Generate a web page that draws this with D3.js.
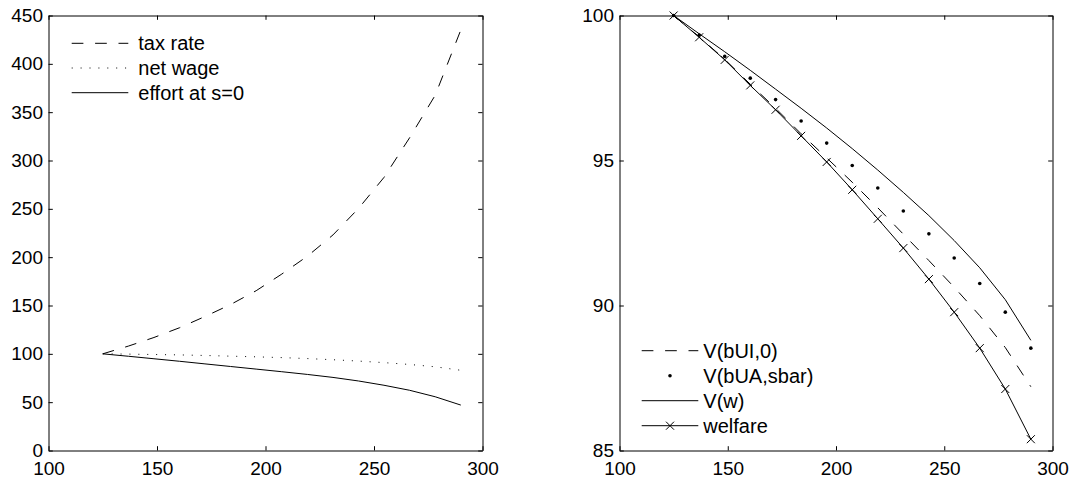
<!DOCTYPE html>
<html>
<head>
<meta charset="utf-8">
<script src="https://cdn.jsdelivr.net/npm/d3@7"></script>
<style>
  body { margin: 0; background: #fff; }
  svg { display: block; font-family: "Liberation Sans", Arial, Helvetica, sans-serif; }
</style>
</head>
<body>
<svg id="chart" width="1075" height="482"></svg>
<script>
// Shared x grid (wage level) for every series.
const wage = [125, 136.8, 148.6, 160.4, 172.1, 183.9, 195.7, 207.5, 219.3, 231.1, 242.9, 254.6, 266.4, 278.2, 290];

// Left panel.
const taxRate = [100, 108.0, 116.9, 127.0, 138.6, 151.0, 165.3, 182.5, 201.0, 223.0, 250.5, 282.5, 323.5, 367.5, 435];
const netWage = [100, 99.7, 99.3, 98.9, 98.3, 97.6, 96.9, 96.1, 95.1, 93.9, 92.5, 90.9, 89.0, 86.6, 83.0];
const effort  = [100, 97.5, 94.9, 92.3, 89.6, 86.9, 84.2, 81.5, 78.7, 75.6, 71.9, 67.5, 62.3, 55.6, 47.0];

// Right panel.
const vUI     = [100, 99.26, 98.49, 97.63, 96.80, 95.92, 95.09, 94.25, 93.37, 92.46, 91.55, 90.63, 89.65, 88.55, 87.2];
const vUA     = [100, 99.33, 98.59, 97.84, 97.10, 96.36, 95.60, 94.83, 94.05, 93.26, 92.47, 91.64, 90.76, 89.77, 88.53];
const vW      = [100, 99.37, 98.75, 98.11, 97.46, 96.80, 96.12, 95.41, 94.67, 93.90, 93.10, 92.24, 91.30, 90.20, 88.80];
const welfare = [100, 99.25, 98.47, 97.59, 96.75, 95.85, 94.95, 93.99, 92.99, 91.98, 90.91, 89.77, 88.53, 87.12, 85.39];

const xTicks = [100, 150, 200, 250, 300];
const leftYTicks = [0, 50, 100, 150, 200, 250, 300, 350, 400, 450];
const rightYTicks = [85, 90, 95, 100];

const leftLabels = ['tax rate', 'net wage', 'effort at s=0'];
const rightLabels = ['V(bUI,0)', 'V(bUA,sbar)', 'V(w)', 'welfare'];

const DASH = '11.7,11.7';
const DOT = '1,7.9';
const TICK = 4.3;

const svg = d3.select('#chart');

function panel(left, right, top, bottom, yDomain, yTicks) {
  const x = d3.scaleLinear().domain([100, 300]).range([left, right]);
  const y = d3.scaleLinear().domain(yDomain).range([bottom, top]);
  const g = svg.append('g');

  const fmt = d3.format('d');
  const styleAxis = sel => {
    sel.select('.domain').attr('stroke', '#000').attr('stroke-width', 1);
    sel.selectAll('.tick line').attr('stroke', '#000').attr('stroke-width', 1);
    sel.selectAll('.tick text').attr('fill', '#000');
    sel.attr('font-family', null).attr('font-size', 19);
  };

  g.append('g').attr('transform', `translate(0,${bottom})`)
    .call(d3.axisBottom(x).tickValues(xTicks).tickFormat(fmt).tickSize(-TICK).tickSizeOuter(0).tickPadding(11.5))
    .call(styleAxis);
  g.append('g').attr('transform', `translate(0,${top})`)
    .call(d3.axisTop(x).tickValues(xTicks).tickFormat('').tickSize(-TICK).tickSizeOuter(0))
    .call(styleAxis);
  g.append('g').attr('transform', `translate(${left},0)`)
    .call(d3.axisLeft(y).tickValues(yTicks).tickFormat(fmt).tickSize(-TICK).tickSizeOuter(0).tickPadding(5.5))
    .call(styleAxis);
  g.append('g').attr('transform', `translate(${right},0)`)
    .call(d3.axisRight(y).tickValues(yTicks).tickFormat('').tickSize(-TICK).tickSizeOuter(0))
    .call(styleAxis);

  return { g, x, y };
}

function drawLine(p, values, dash) {
  const line = d3.line().x((d, i) => p.x(wage[i])).y(d => p.y(d));
  p.g.append('path')
    .datum(values)
    .attr('fill', 'none')
    .attr('stroke', '#000')
    .attr('stroke-width', 1)
    .attr('stroke-dasharray', dash)
    .attr('d', line);
}

function drawCrosses(p, values, s) {
  p.g.append('g').selectAll('path')
    .data(values)
    .join('path')
      .attr('d', (d, i) => {
        const cx = p.x(wage[i]), cy = p.y(d);
        return `M${cx - s},${cy - s}L${cx + s},${cy + s}M${cx - s},${cy + s}L${cx + s},${cy - s}`;
      })
      .attr('stroke', '#000')
      .attr('stroke-width', 1);
}

function drawDots(p, values) {
  p.g.append('g').selectAll('circle')
    .data(values)
    .join('circle')
      .attr('cx', (d, i) => p.x(wage[i]))
      .attr('cy', d => p.y(d))
      .attr('r', 1.8)
      .attr('fill', '#000');
}

// Legend row: sample from x0 to x1, label starting at tx.
function legendRow(g, x0, x1, tx, cy, label, kind) {
  if (kind !== 'marker') {
    g.append('line')
      .attr('x1', x0).attr('x2', x1).attr('y1', cy).attr('y2', cy)
      .attr('stroke', '#000').attr('stroke-width', 1)
      .attr('stroke-dasharray', kind === 'dash' ? DASH : kind === 'dot' ? DOT : null);
  }
  const mx = (x0 + x1) / 2;
  if (kind === 'marker') {
    g.append('circle').attr('cx', mx).attr('cy', cy).attr('r', 1.8).attr('fill', '#000');
  }
  if (kind === 'cross') {
    const s = 4;
    g.append('path')
      .attr('d', `M${mx - s},${cy - s}L${mx + s},${cy + s}M${mx - s},${cy + s}L${mx + s},${cy - s}`)
      .attr('stroke', '#000').attr('stroke-width', 1);
  }
  g.append('text')
    .attr('x', tx).attr('y', cy).attr('dy', '0.35em')
    .attr('font-size', 20).attr('fill', '#000')
    .text(label);
}

// Left panel
const L = panel(48.5, 482.5, 15.5, 450.5, [0, 450], leftYTicks);
drawLine(L, taxRate, DASH);
drawLine(L, netWage, DOT);
drawLine(L, effort, null);
['dash', 'dot', 'solid'].forEach((k, i) => legendRow(L.g, 71.7, 128.3, 138.3, 43.3 + i * 24.7, leftLabels[i], k));

// Right panel
const R = panel(619.5, 1052.5, 15.5, 450.5, [85, 100], rightYTicks);
drawLine(R, vUI, DASH);
drawDots(R, vUA);
drawLine(R, vW, null);
drawLine(R, welfare, null);
drawCrosses(R, welfare, 4);
['dash', 'marker', 'solid', 'cross'].forEach((k, i) => legendRow(R.g, 641.7, 698.3, 703.3, 350.7 + i * 25, rightLabels[i], k));
</script>
</body>
</html>
